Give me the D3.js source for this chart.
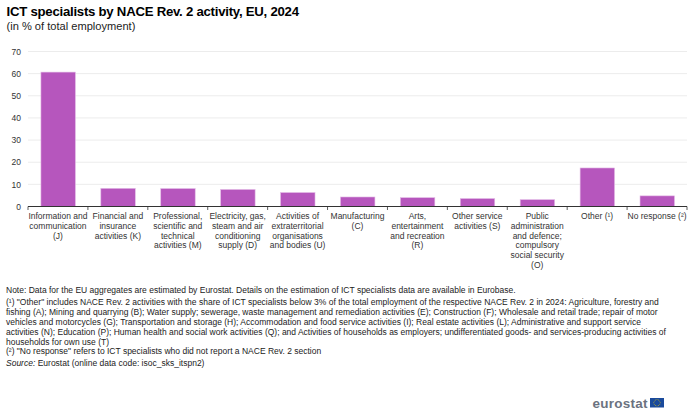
<!DOCTYPE html>
<html><head><meta charset="utf-8">
<script src="https://cdnjs.cloudflare.com/ajax/libs/d3/7.8.5/d3.min.js"></script>
<style>html,body{margin:0;padding:0;background:#fff}svg{display:block}text{font-family:"Liberation Sans",Arial,sans-serif}</style>
</head><body><div id="c"></div>
<script>
const categories=[
 ["Information and","communication","(J)"],
 ["Financial and","insurance","activities (K)"],
 ["Professional,","scientific and","technical","activities (M)"],
 ["Electricity, gas,","steam and air","conditioning","supply (D)"],
 ["Activities of","extraterritorial","organisations","and bodies (U)"],
 ["Manufacturing","(C)"],
 ["Arts,","entertainment","and recreation","(R)"],
 ["Other service","activities (S)"],
 ["Public","administration","and defence;","compulsory","social security","(O)"],
 ["Other (¹)"],
 ["No response (²)"]];
const values=[60.7,8.2,8.1,7.7,6.3,4.3,4.0,3.6,3.1,17.4,4.8];
const yTicks=[0,10,20,30,40,50,60,70];
const noteLines=[
 'Note: Data for the EU aggregates are estimated by Eurostat. Details on the estimation of ICT specialists data are available in Eurobase.',
 '(¹) "Other" includes NACE Rev. 2 activities with the share of ICT specialists below 3% of the total employment of the respective NACE Rev. 2 in 2024: Agriculture, forestry and',
 'fishing (A); Mining and quarrying (B); Water supply; sewerage, waste management and remediation activities (E); Construction (F); Wholesale and retail trade; repair of motor',
 'vehicles and motorcycles (G); Transportation and storage (H); Accommodation and food service activities (I); Real estate activities (L); Administrative and support service',
 'activities (N); Education (P); Human health and social work activities (Q); and Activities of households as employers; undifferentiated goods- and services-producing activities of',
 'households for own use (T)',
 '(²) "No response" refers to ICT specialists who did not report a NACE Rev. 2 section'];
const noteY=[293,305,315,325,335,344.5,354];

const svg=d3.select("#c").append("svg").attr("width",700).attr("height",415);
svg.append("text").attr("x",6.5).attr("y",16).attr("font-size",13.2).attr("font-weight","bold").attr("fill","#000").attr("textLength",292.5).text("ICT specialists by NACE Rev. 2 activity, EU, 2024");
svg.append("text").attr("x",6.5).attr("y",29.5).attr("font-size",11.1).attr("fill","#222").text("(in % of total employment)");

const x=d3.scaleBand().domain(d3.range(categories.length)).range([28,687]).paddingInner(0).paddingOuter(0);
const y=d3.scaleLinear().domain([0,70]).range([206.5,51.5]);
const g=svg.append("g");
g.selectAll("line.grid").data(yTicks.slice(1)).join("line").attr("class","grid")
 .attr("x1",28).attr("x2",687).attr("y1",d=>y(d)).attr("y2",d=>y(d)).attr("stroke","#ececec").attr("stroke-width",1);
g.selectAll("text.yl").data(yTicks).join("text").attr("class","yl")
 .attr("x",21).attr("y",d=>y(d)+3.2).attr("text-anchor","end").attr("font-size",8.5).attr("fill","#333").text(d=>d);
const bw=x.bandwidth()*0.575;
g.selectAll("rect.bar").data(values).join("rect").attr("class","bar")
 .attr("x",(d,i)=>x(i)+x.bandwidth()/2-bw/2+0.2).attr("width",bw)
 .attr("y",d=>y(d)).attr("height",d=>y(0)-y(d))
 .attr("fill","#b656bd").attr("stroke","#e3bbe6").attr("stroke-width",0.6);
g.append("line").attr("x1",28).attr("x2",687).attr("y1",y(0)).attr("y2",y(0)).attr("stroke","#333").attr("stroke-width",1);
g.selectAll("line.tick").data(d3.range(categories.length+1)).join("line").attr("class","tick")
 .attr("x1",i=>28+i*x.bandwidth()).attr("x2",i=>28+i*x.bandwidth()).attr("y1",y(0)).attr("y2",y(0)+3.5).attr("stroke","#333").attr("stroke-width",0.8);
const lab=g.selectAll("text.xl").data(categories).join("text").attr("class","xl")
 .attr("text-anchor","middle").attr("font-size",8.5).attr("fill","#333");
lab.each(function(lines,i){
 d3.select(this).selectAll("tspan").data(lines).join("tspan")
  .attr("x",x(i)+x.bandwidth()/2).attr("y",(d,k)=>219+k*9.8).text(d=>d);
});
svg.selectAll("text.note").data(noteLines).join("text").attr("class","note")
 .attr("x",6).attr("y",(d,i)=>noteY[i]).attr("font-size",8.5).attr("fill","#222").text(d=>d);
const src=svg.append("text").attr("x",6).attr("y",366).attr("font-size",8.5).attr("fill","#222");
src.append("tspan").attr("font-style","italic").text("Source:");
src.append("tspan").text(" Eurostat (online data code: isoc_sks_itspn2)");
svg.append("text").attr("x",592.5).attr("y",407.5).attr("font-size",13.5).attr("font-weight","bold").attr("fill","#6b7280").attr("textLength",55).text("eurostat");
svg.append("rect").attr("x",650).attr("y",398).attr("width",14).attr("height",9.5).attr("fill","#1a4a9c");
svg.selectAll("circle.star").data(d3.range(12)).join("circle").attr("class","star")
 .attr("cx",i=>657+3.2*Math.cos(i*Math.PI/6)).attr("cy",i=>402.7+3.2*Math.sin(i*Math.PI/6)).attr("r",0.45).attr("fill","#f5d000");
</script></body></html>
